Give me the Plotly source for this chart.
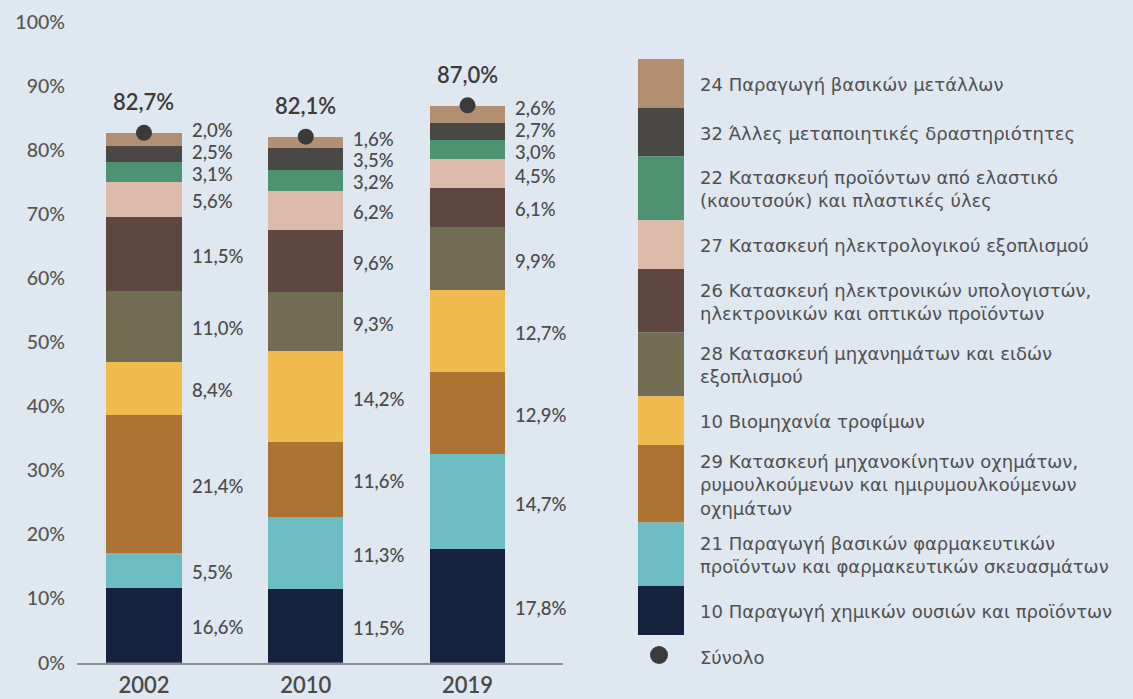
import plotly.graph_objects as go

# ---------------- data ----------------
years = ["2002", "2010", "2019"]

series_names = [
    "10 Παραγωγή χημικών ουσιών και προϊόντων",
    "21 Παραγωγή βασικών φαρμακευτικών<br>προϊόντων και φαρμακευτικών σκευασμάτων",
    "29 Κατασκευή μηχανοκίνητων οχημάτων,<br>ρυμουλκούμενων και ημιρυμουλκούμενων<br>οχημάτων",
    "10 Βιομηχανία τροφίμων",
    "28 Κατασκευή μηχανημάτων και ειδών<br>εξοπλισμού",
    "26 Κατασκευή ηλεκτρονικών υπολογιστών,<br>ηλεκτρονικών και οπτικών προϊόντων",
    "27 Κατασκευή ηλεκτρολογικού εξοπλισμού",
    "22 Κατασκευή προϊόντων από ελαστικό<br>(καουτσούκ) και πλαστικές ύλες",
    "32 Άλλες μεταποιητικές δραστηριότητες",
    "24 Παραγωγή βασικών μετάλλων",
]
colors = ["#16233d", "#6dbcc2", "#ad7332", "#efbb4f", "#726c52",
          "#5e4641", "#dcbbab", "#4f9272", "#4a4845", "#b08f72"]

# bar segment heights as drawn (bottom -> top)
h2002 = [11.7, 5.5, 21.4, 8.4, 11.0, 11.5, 5.6, 3.1, 2.5, 2.0]
h2010 = [11.5, 11.3, 11.6, 14.2, 9.3, 9.6, 6.2, 3.2, 3.5, 1.6]
h2019 = [17.8, 14.7, 12.9, 12.7, 9.9, 6.1, 4.5, 3.0, 2.7, 2.6]
# values printed beside the segments
p2002 = [16.6, 5.5, 21.4, 8.4, 11.0, 11.5, 5.6, 3.1, 2.5, 2.0]
p2010 = [11.5, 11.3, 11.6, 14.2, 9.3, 9.6, 6.2, 3.2, 3.5, 1.6]
p2019 = [17.8, 14.7, 12.9, 12.7, 9.9, 6.1, 4.5, 3.0, 2.7, 2.6]

totals = [82.7, 82.1, 87.0]
total_name = "Σύνολο"

# ---------------- styling ----------------
W, H = 1133, 699
BG = "#dfe7f1"
FONT = "Lato"
LFONT = "DejaVu Sans"
TXT = "#4a4a4a"
BAR_W = 0.464

def fmt(v):
    return f"{v:.1f}".replace(".", ",") + "%"

heights = [h2002, h2010, h2019]
printed = [p2002, p2010, p2019]
xs = list(range(len(years)))

fig = go.Figure()
for k, name in enumerate(series_names):
    fig.add_trace(go.Bar(
        x=xs, y=[h[k] for h in heights], name=name.replace("<br>", " "),
        marker=dict(color=colors[k], line=dict(width=0)),
        width=BAR_W, showlegend=False, hoverinfo="skip",
    ))

fig.add_trace(go.Scatter(
    x=xs, y=totals, mode="markers", name=total_name,
    marker=dict(color="#3a3a3a", size=16), showlegend=False, hoverinfo="skip",
))

annotations = []
# segment labels with simple collision avoidance
GAP = 3.4
for i, (h, p) in enumerate(zip(heights, printed)):
    ys = []
    cum = 0
    for v in h:
        ys.append(cum + v / 2)
        cum += v
    for j in range(1, len(ys)):
        if ys[j] - ys[j - 1] < GAP:
            ys[j] = ys[j - 1] + GAP
    for j, v in enumerate(p):
        annotations.append(dict(
            x=i + BAR_W / 2, y=ys[j], xref="x", yref="y", text=fmt(v),
            showarrow=False, xanchor="left", yanchor="middle", xshift=8, yshift=-2,
            font=dict(family=FONT, size=18.5, color=TXT, weight=500),
        ))

# total labels
for i, t in enumerate(totals):
    annotations.append(dict(
        x=i, y=t, xref="x", yref="y", text=fmt(t), showarrow=False,
        xanchor="center", yanchor="middle", yshift=31,
        font=dict(family=FONT, size=22, color="#3b3b3b", weight=600),
    ))

# custom legend (top -> bottom)
shapes = []
LX0, LX1, TX = 638, 684, 698
top = 59
for k in reversed(range(len(series_names))):
    name = series_names[k]
    nlines = name.count("<br>") + 1
    hgt = {1: 48.8, 2: 63.6, 3: 77.5}[nlines]
    shapes.append(dict(
        type="rect", xref="paper", yref="paper",
        x0=LX0 / W, x1=LX1 / W, y0=1 - (top + hgt) / H, y1=1 - top / H,
        fillcolor=colors[k], line=dict(width=0), layer="above",
    ))
    annotations.append(dict(
        x=TX / W, y=1 - (top + hgt / 2 + 1) / H, xref="paper", yref="paper",
        text=name, showarrow=False, xanchor="left", yanchor="middle", align="left",
        font=dict(family=LFONT, size=18, color="#505050"),
    ))
    top += hgt

shapes.append(dict(
    type="circle", xref="paper", yref="paper",
    x0=(659 - 9) / W, x1=(659 + 9) / W, y0=1 - (655 + 9) / H, y1=1 - (655 - 9) / H,
    fillcolor="#3a3a3a", line=dict(width=0),
))
annotations.append(dict(
    x=TX / W, y=1 - 657 / H, xref="paper", yref="paper", text=total_name,
    showarrow=False, xanchor="left", yanchor="middle",
    font=dict(family=LFONT, size=18, color="#505050"),
))

fig.update_layout(
    width=W, height=H, barmode="stack", bargap=0,
    paper_bgcolor=BG, plot_bgcolor=BG,
    margin=dict(l=0, r=0, t=0, b=0),
    font=dict(family=FONT, color=TXT),
    annotations=annotations, shapes=shapes,
    xaxis=dict(
        domain=[77 / W, 563 / W], range=[-0.414, 2.59],
        tickmode="array", tickvals=xs, ticktext=years,
        showline=True, linecolor="#8c8c8c", linewidth=2,
        showgrid=False, zeroline=False, ticks="",
        tickfont=dict(family=FONT, size=22, color="#4a4a4a", weight=600),
        ticklabelstandoff=2, fixedrange=True, automargin=False,
    ),
    yaxis=dict(
        domain=[1 - 662.7 / H, 1 - 22 / H], range=[0, 100],
        dtick=10, ticksuffix="%", showgrid=False, zeroline=False,
        showline=False, ticks="",
        tickfont=dict(family=FONT, size=19.5, color="#555555", weight=500),
        ticklabelstandoff=11, fixedrange=True, automargin=False,
    ),
)

fig.write_html(
    "out.html",
    config={"displayModeBar": False},
    post_script="document.body.style.margin='0';document.body.style.background='" + BG + "';",
)
